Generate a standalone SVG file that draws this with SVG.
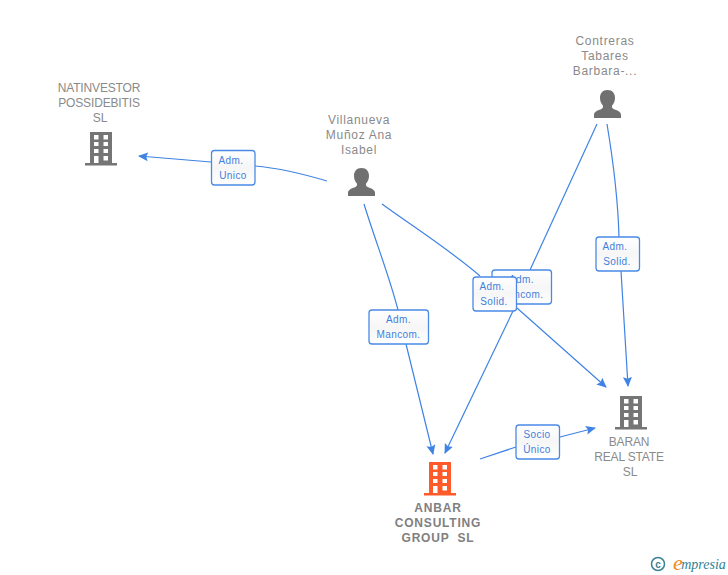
<svg xmlns="http://www.w3.org/2000/svg" width="728" height="575" viewBox="0 0 728 575">
<style>
text{font-family:"Liberation Sans",Arial,sans-serif;text-anchor:middle}
.n{font-size:12px;fill:#8a8a8a;letter-spacing:-.15px}
.p{font-size:12px;fill:#8a8a8a;letter-spacing:.7px}
.b{font-size:12px;fill:#808080;font-weight:bold;letter-spacing:.8px}
.l{font-size:10px;fill:#3f7fdc;letter-spacing:.4px}
.e{fill:none;stroke:#3f83e4;stroke-width:1.2}
.r{fill:url(#lg);stroke:#4a8ae6;stroke-width:1.3}
</style>
<defs>
<linearGradient id="lg" x1="0" y1="0" x2="0" y2="1"><stop offset="0" stop-color="#ffffff"/><stop offset=".5" stop-color="#f6f6f6"/><stop offset="1" stop-color="#ffffff"/></linearGradient>
<marker id="a" markerUnits="userSpaceOnUse" markerWidth="12" markerHeight="12" refX="9" refY="5" orient="auto"><path d="M0 0.500L10 5L0 9.500L1.800 5Z" fill="#3f83e4"/></marker>
<path id="bld" fill-rule="evenodd" d="M5 0H27V31H32V33.500H0V31H5ZM9 3V7.500H13.500V3ZM18.500 3V7.500H23V3ZM9 10V14H13.500V10ZM18.500 10V14H23V10ZM9 17V21H13.500V17ZM18.500 17V21H23V17ZM9 24V31H13.500V24ZM18.500 24V28.500H23V24Z"/>
<path id="psn" d="M13.500 0C18.500 0 21 3.500 21 8C21 11.500 19.500 14 18 15.800C17.800 17.500 18.200 18.500 20 19.300C24 20.800 27 21.800 27 25V28H0V25C0 21.800 3 20.800 7 19.300C8.800 18.500 9.200 17.500 9 15.800C7.500 14 6 11.500 6 8C6 3.500 8.500 0 13.500 0Z"/>
</defs>
<g id="connectors">
<path class="e" marker-end="url(#a)" d="M327 181C300 173 278 168 255 166M211 162L139 156"/>
<path class="e" marker-end="url(#a)" d="M364 204C375 240 389 275 398 310M406 344L433 454"/>
<path class="e" marker-end="url(#a)" d="M382 204C415 228 450 250 480 276M517 308L606 387"/>
<path class="e" d="M597 124L530 270"/>
<path class="e" marker-end="url(#a)" d="M513 311L445 453"/>
<path class="e" marker-end="url(#a)" d="M607 124C613 160 618 200 619 237M621 271L628 386"/>
<path class="e" marker-end="url(#a)" d="M480 459L516 447M560 437L595 428"/>
</g>
<g id="edge-labels">
<g id="lbl-unico"><rect class="r" x="211.500" y="150.500" width="43.500" height="34.500" rx="3"/><text class="l" x="231" y="164">Adm.</text><text class="l" x="233" y="179">Unico</text></g>
<g id="lbl-mancom1"><rect class="r" x="369" y="310" width="59.500" height="34" rx="3"/><text class="l" x="398.500" y="323">Adm.</text><text class="l" x="398.500" y="338">Mancom.</text></g>
<g id="lbl-mancom2"><rect class="r" x="492" y="270" width="59.500" height="34" rx="3"/><text class="l" x="521.500" y="283">Adm.</text><text class="l" x="521.500" y="298">Mancom.</text></g>
<g id="lbl-solid1"><rect class="r" x="473" y="277" width="43.500" height="34" rx="3"/><text class="l" x="492" y="290">Adm.</text><text class="l" x="494" y="305">Solid.</text></g>
<g id="lbl-solid2"><rect class="r" x="596" y="237" width="43.500" height="34" rx="3"/><text class="l" x="615" y="250">Adm.</text><text class="l" x="617" y="265">Solid.</text></g>
<g id="lbl-socio"><rect class="r" x="516" y="425" width="43.500" height="34" rx="3"/><text class="l" x="537" y="438">Socio</text><text class="l" x="537" y="453">Único</text></g>
</g>
<g id="node-natinvestor"><text class="n" x="99" y="92">NATINVESTOR</text><text class="n" x="99" y="107">POSSIDEBITIS</text><text class="n" x="100" y="122">SL</text><use href="#bld" x="85" y="132" fill="#757575"/></g>
<g id="node-villanueva"><text class="p" x="359" y="124">Villanueva</text><text class="p" x="359" y="139">Muñoz Ana</text><text class="p" x="359" y="154">Isabel</text><use href="#psn" x="348" y="168" fill="#707070"/></g>
<g id="node-contreras"><text class="p" x="605" y="45">Contreras</text><text class="p" x="605" y="60">Tabares</text><text class="p" x="605" y="75">Barbara-...</text><use href="#psn" x="594" y="90" fill="#707070"/></g>
<g id="node-anbar"><use href="#bld" x="424" y="462" fill="#ff5a2a"/><text class="b" x="438" y="512">ANBAR</text><text class="b" x="438" y="527">CONSULTING</text><text class="b" x="438" y="542">GROUP &#160;SL</text></g>
<g id="node-baran"><use href="#bld" x="615" y="396" fill="#757575"/><text class="n" x="629" y="446">BARAN</text><text class="n" x="629" y="461">REAL STATE</text><text class="n" x="630" y="476">SL</text></g>
<g id="watermark"><circle cx="658" cy="564" r="6.500" fill="none" stroke="#3d7f94" stroke-width="1.500"/><text x="658" y="567.500" style="font-size:10px;fill:#3d7f94;font-weight:bold">c</text><text x="678" y="569.500" style="font-size:22px;fill:#f08a1d;font-family:'Liberation Serif',serif;font-style:italic">e</text><text x="703.500" y="569" style="font-size:14px;fill:#2f7f96;font-family:'Liberation Serif',serif;font-style:italic">mpresia</text></g>
</svg>
